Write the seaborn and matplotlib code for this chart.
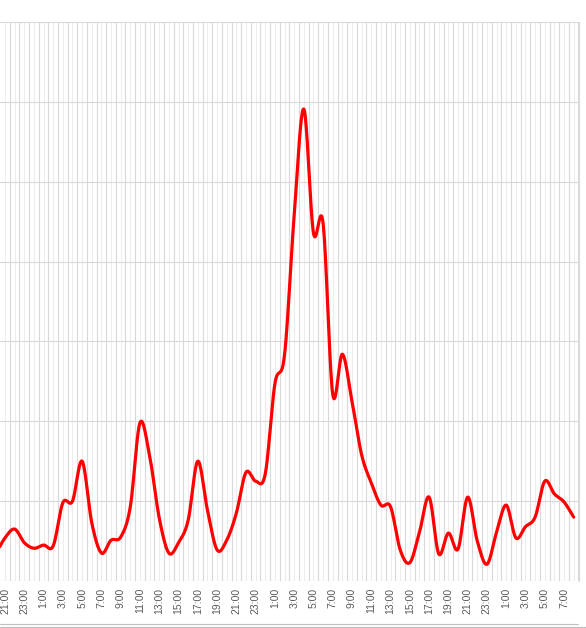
import numpy as np
import pandas as pd
import matplotlib
matplotlib.use("Agg")
import matplotlib.pyplot as plt
import seaborn as sns
from matplotlib.lines import Line2D

# hourly readings, first one is 20:00, last one 8:00 two and a half days later
values = [3.3, 5.4, 6.5, 4.8, 4.1, 4.5, 4.4, 9.8, 10.0, 15.0, 7.3, 3.5, 5.1, 5.5, 9.3,
          19.8, 15.7, 7.9, 3.5, 4.8, 7.6, 15.0, 8.9, 3.9, 5.1, 8.5, 13.6, 12.5, 13.4,
          24.7, 28.3, 45.8, 59.1, 43.6, 44.8, 23.4, 28.4, 22.5, 15.8, 12.3, 9.5, 9.3,
          3.9, 2.3, 6.1, 10.5, 3.4, 6.0, 4.0, 10.5, 5.0, 2.1, 6.1, 9.5, 5.4, 6.8, 8.0,
          12.5, 10.9, 9.9, 8.0]
start_hour = 20
hour_labels = [f"{(start_hour + i) % 24}:00" for i in range(len(values))]
y_ticks = [0, 10, 20, 30, 40, 50, 60, 70]


def smooth(y, steps=20):
    # bezier smoothing like a spreadsheet "smoothed line"
    y = np.asarray(y, dtype=float)
    n = len(y)
    xs, ys = [], []
    for i in range(n - 1):
        p0 = y[max(i - 1, 0)]
        p1 = y[i]
        p2 = y[i + 1]
        p3 = y[min(i + 2, n - 1)]
        x0 = max(i - 1, 0)
        x3 = min(i + 2, n - 1)
        c1x = i + (i + 1 - x0) / 6
        c2x = i + 1 - (x3 - i) / 6
        c1 = p1 + (p2 - p0) / 6
        c2 = p2 - (p3 - p1) / 6
        t = np.linspace(0, 1, steps, endpoint=False)
        b0, b1, b2, b3 = (1 - t) ** 3, 3 * t * (1 - t) ** 2, 3 * t ** 2 * (1 - t), t ** 3
        xs.append(b0 * i + b1 * c1x + b2 * c2x + b3 * (i + 1))
        ys.append(b0 * p1 + b1 * c1 + b2 * c2 + b3 * p2)
    xs.append([n - 1])
    ys.append([y[-1]])
    return np.concatenate(xs), np.concatenate(ys)


sx, sy = smooth(values)
df = pd.DataFrame({"x": sx, "y": sy})

sns.set_style("white")
plt.rcParams['font.family'] = ['Liberation Sans', 'DejaVu Sans']

fig = plt.figure(figsize=(5.86, 6.28), dpi=100)
ax = fig.add_axes([0.0, 47 / 628, 578.5 / 586, 559 / 628])

sns.lineplot(data=df, x="x", y="y", ax=ax, color="#ff0000", linewidth=2.3, sort=False)

n = len(values)
centers = list(range(1, n))
ax.set_xticks(centers)
ax.set_xticklabels([hour_labels[i] if i % 2 == 1 else "" for i in centers],
                   rotation=90, fontsize=7.5, color="#595959")
ax.set_xticks(np.arange(1.5, n, 1), minor=True)
ax.set_yticks(y_ticks)
ax.set_yticklabels([])
ax.tick_params(axis="both", which="both", length=0, pad=5)
# limits last, set_xticks would widen them
ax.set_xlim(0.48, n - 0.5)
ax.set_ylim(0, 70)

ax.grid(True, axis="x", which="major", color="#ededed", linewidth=0.8)
ax.grid(True, axis="x", which="minor", color="#d9d9d9", linewidth=0.8)
ax.grid(True, axis="y", which="major", color="#d9d9d9", linewidth=0.8)
ax.set_axisbelow(True)

for side in ["top", "left", "bottom"]:
    ax.spines[side].set_visible(False)
ax.spines["right"].set_color("#d9d9d9")
ax.spines["right"].set_linewidth(0.8)
ax.set_xlabel("")
ax.set_ylabel("")

# outer chart border at the bottom
fig.add_artist(Line2D([0, 578 / 586], [1 - 624 / 628] * 2, color="#bfbfbf", linewidth=0.8))
fig.add_artist(Line2D([0, 1], [1 - 627 / 628] * 2, color="#bfbfbf", linewidth=0.8))

fig.savefig("out.png", dpi=100)
